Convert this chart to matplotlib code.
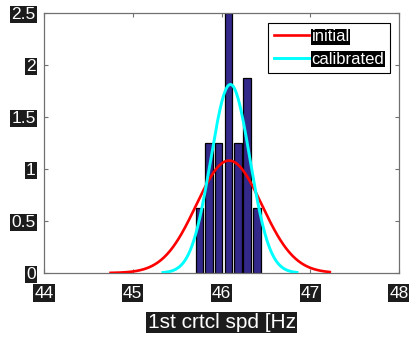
import numpy as np
import matplotlib.pyplot as plt

plt.rcParams['font.family'] = ['Liberation Sans', 'DejaVu Sans']

# histogram of calibrated 1st critical speed (density normalised)
bin_centers = [45.752, 45.860, 45.968, 46.080, 46.185, 46.290, 46.398]
density = [0.625, 1.25, 1.25, 2.5, 1.25, 1.875, 0.625]
bar_width = 0.086

# fitted normal distributions: (mean, std, plot range)
init_mu, init_sd = 46.085, 0.369
init_range = (44.75, 47.22)
cal_mu, cal_sd = 46.10, 0.22
cal_range = (45.34, 46.85)

xticks = [44, 45, 46, 47, 48]
yticks = [0, 0.5, 1, 1.5, 2, 2.5]
ytick_labels = ['0', '0.5', '1', '1.5', '2', '2.5']


def normpdf(x, mu, sd):
    return np.exp(-0.5 * ((x - mu) / sd) ** 2) / (sd * np.sqrt(2 * np.pi))


fig = plt.figure(figsize=(4.09, 3.38), dpi=100)
ax = fig.add_axes([0.1076, 0.1923, 0.8680, 0.7692])

ax.bar(bin_centers, density, width=bar_width, color='#33298a',
       edgecolor='black', linewidth=0.9, zorder=2)

xi = np.linspace(init_range[0], init_range[1], 300)
ax.plot(xi, normpdf(xi, init_mu, init_sd), color='red', lw=1.9,
        label='initial', zorder=3)
xc = np.linspace(cal_range[0], cal_range[1], 300)
ax.plot(xc, normpdf(xc, cal_mu, cal_sd), color='cyan', lw=2.1,
        label='calibrated', zorder=4)

ax.set_xlim(44, 48)
ax.set_ylim(0, 2.5)
ax.set_xticks(xticks)
ax.set_yticks(yticks)
ax.set_yticklabels(ytick_labels)

for s in ax.spines.values():
    s.set_color('#707070')
    s.set_linewidth(0.9)
ax.tick_params(direction='in', length=3, width=0.8, color='#707070',
               top=True, right=True, labelsize=12.5, labelcolor='white')
ax.tick_params(axis='x', pad=9)
ax.tick_params(axis='y', pad=6)

box = dict(facecolor='#1c1c1c', edgecolor='none', pad=0.8)
for lbl in ax.get_xticklabels() + ax.get_yticklabels():
    lbl.set_bbox(box)

ax.set_xlabel('1st crtcl spd [Hz', fontsize=15, color='white', labelpad=9,
              bbox=dict(facecolor='#1c1c1c', edgecolor='none', pad=0.8))

leg = ax.legend(loc='upper right', bbox_to_anchor=(0.975, 0.96), fontsize=12,
                frameon=True, fancybox=False, framealpha=1, edgecolor='black',
                handlelength=2.1, handletextpad=0.15, borderpad=0.35,
                labelspacing=0.45, borderaxespad=0)
leg.get_frame().set_linewidth(0.8)
for t in leg.get_texts():
    t.set_color('white')
    t.set_bbox(dict(facecolor='black', edgecolor='none', pad=0.5))

fig.savefig('out.png', dpi=100)
